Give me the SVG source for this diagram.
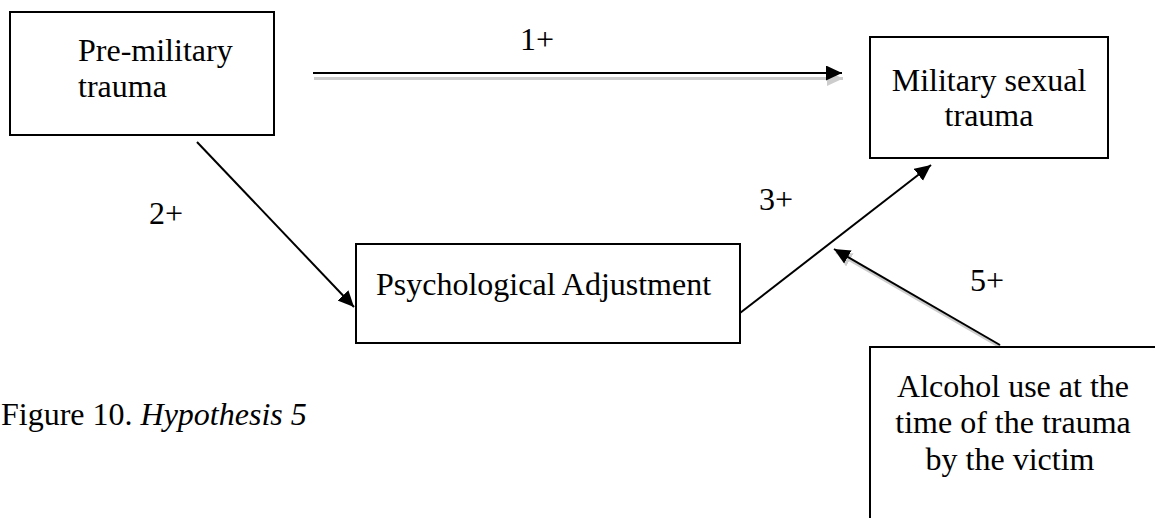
<svg xmlns="http://www.w3.org/2000/svg" width="1155" height="518" viewBox="0 0 1155 518">
  <style>
    .box { fill: #ffffff; stroke: #000000; stroke-width: 2; }
    .lbl { font-family: "Liberation Serif", "Times New Roman", serif; font-size: 32px; fill: #000000; }
    .mid { text-anchor: middle; }
    .edge { stroke: #000000; stroke-width: 2; fill: none; }
    .shadow { stroke: #cccccc; stroke-width: 3; fill: none; }
  </style>
  <defs>
    <marker id="head" markerUnits="userSpaceOnUse" markerWidth="18" markerHeight="16" refX="16" refY="7.5" orient="auto">
      <path d="M0,0 L16,7.5 L0,15 Z" fill="#000000"/>
    </marker>
    <marker id="headShadow" markerUnits="userSpaceOnUse" markerWidth="18" markerHeight="16" refX="16" refY="7.5" orient="auto">
      <path d="M0,0 L16,7.5 L0,15 Z" fill="#cccccc"/>
    </marker>
  </defs>
  <rect width="1155" height="518" fill="#ffffff"/>

  <g id="connectors">
    <g id="edge1">
      <line class="shadow" x1="314" y1="78.5" x2="843" y2="78.5" marker-end="url(#headShadow)"/>
      <line class="edge" x1="313" y1="73" x2="842" y2="73" marker-end="url(#head)"/>
    </g>
    <g id="edge2">
      <line class="edge" x1="197" y1="142" x2="354" y2="307" marker-end="url(#head)"/>
    </g>
    <g id="edge3">
      <line class="edge" x1="740" y1="313" x2="931" y2="165" marker-end="url(#head)"/>
    </g>
    <g id="edge5">
      <line class="shadow" x1="1002" y1="348" x2="836" y2="252" marker-end="url(#headShadow)"/>
      <line class="edge" x1="1000" y1="345" x2="834" y2="249" marker-end="url(#head)"/>
    </g>
    <text class="lbl" x="520" y="50">1+</text>
    <text class="lbl" x="149" y="224">2+</text>
    <text class="lbl" x="759" y="210">3+</text>
    <text class="lbl" x="970" y="291">5+</text>
  </g>

  <g id="node-premilitary">
    <rect class="box" x="10" y="12" width="264" height="123"/>
    <text class="lbl" x="78" y="61">Pre-military</text>
    <text class="lbl" x="78" y="97">trauma</text>
  </g>

  <g id="node-mst">
    <rect class="box" x="870" y="37" width="238" height="121"/>
    <text class="lbl mid" x="989" y="91">Military sexual</text>
    <text class="lbl mid" x="989" y="126">trauma</text>
  </g>

  <g id="node-psych">
    <rect class="box" x="356" y="244" width="384" height="99"/>
    <text class="lbl" x="376" y="295">Psychological Adjustment</text>
  </g>

  <g id="node-alcohol">
    <rect class="box" x="870" y="347" width="300" height="200"/>
    <text class="lbl mid" x="1013" y="397">Alcohol use at the</text>
    <text class="lbl mid" x="1013" y="433">time of the trauma</text>
    <text class="lbl mid" x="1010" y="470">by the victim</text>
  </g>

  <text id="caption" class="lbl" x="1" y="425">Figure 10. <tspan font-style="italic">Hypothesis 5</tspan></text>
</svg>
